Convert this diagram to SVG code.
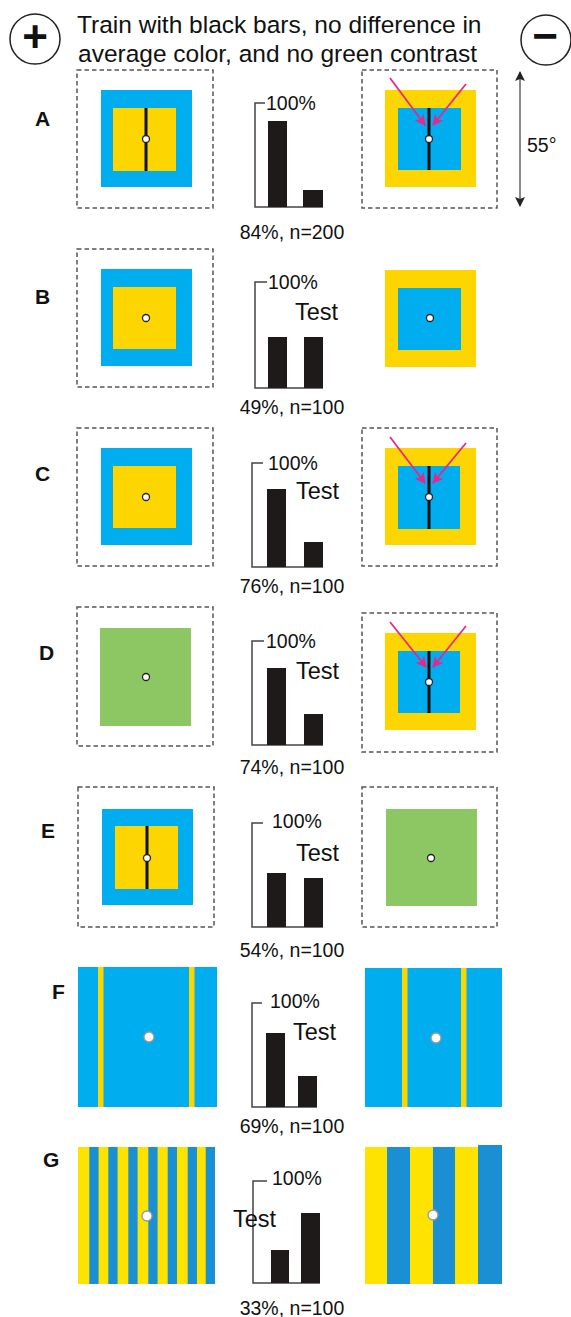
<svg xmlns="http://www.w3.org/2000/svg" width="571" height="1317" viewBox="0 0 571 1317">
<defs>
<style>
.box{fill:none;stroke:#555;stroke-width:1.5;stroke-dasharray:4.5 3}
.cy{fill:#00aeef}.ye{fill:#fdd500}.gr{fill:#8cc763}.gb{fill:#1b8fd4}.gy{fill:#ffe300}
.bar{fill:#1e1a1a}
.ax{fill:none;stroke:#444;stroke-width:1.5}
.stick{stroke:#111;stroke-width:3}
.fix{fill:#fff;stroke:#222;stroke-width:1.3}
.fix2{fill:#fff;stroke:#999;stroke-width:1.3}
text{font-family:"Liberation Sans",Arial,sans-serif;fill:#111}
.lbl{font-weight:bold;font-size:21px}
.t{font-size:19.5px}
.test{font-size:23.5px}
.ttl{font-size:24.5px}
.sym{font-size:44px;font-weight:bold}
.mag{fill:none;stroke:#e8268b;stroke-width:1.8;marker-end:url(#mh)}
.deg{fill:none;stroke:#888;stroke-width:2;marker-start:url(#dh);marker-end:url(#dh)}
</style>
<marker id="mh" viewBox="0 0 10 10" refX="9" refY="5" markerWidth="13" markerHeight="11" markerUnits="userSpaceOnUse" orient="auto"><path d="M0,0 L10,5 L0,10 L2.5,5 Z" fill="#e8268b"/></marker>
<marker id="dh" viewBox="0 0 10 10" refX="9" refY="5" markerWidth="12" markerHeight="10" markerUnits="userSpaceOnUse" orient="auto-start-reverse"><path d="M0,0 L10,5 L0,10 L2,5 Z" fill="#222"/></marker>
</defs>
<rect width="571" height="1317" fill="#fff"/>

<g id="header">
<circle cx="35" cy="39" r="25" fill="none" stroke="#222" stroke-width="1.5"/>
<text class="sym" x="35" y="52" text-anchor="middle">+</text>
<circle cx="546" cy="40" r="25" fill="none" stroke="#222" stroke-width="1.5"/>
<text class="sym" x="545" y="51" text-anchor="middle">−</text>
<text class="ttl" x="77" y="33">Train with black bars, no difference in</text>
<text class="ttl" x="78" y="62">average color, and no green contrast</text>
</g>

<g id="rowA">
<text class="lbl" x="35" y="126">A</text>
<g id="A-plus">
<rect class="box" x="77" y="70" width="136" height="138"/>
<rect class="cy" x="101" y="90" width="91" height="97"/>
<rect class="ye" x="113" y="108" width="63" height="63"/>
<line class="stick" x1="146" y1="108" x2="146" y2="171"/>
<circle class="fix" cx="146" cy="139" r="3.5"/>
</g>
<g id="A-chart">
<path class="ax" d="M265 103 H255 V207 H323"/>
<rect class="bar" x="268" y="121" width="19" height="86"/>
<rect class="bar" x="303" y="190" width="20" height="17"/>
<text class="t" x="266" y="110">100%</text>
<text class="t" x="292" y="239" text-anchor="middle">84%, n=200</text>
</g>
<g id="A-minus">
<rect class="box" x="362" y="70" width="135" height="138"/>
<rect class="ye" x="385" y="90" width="91" height="97"/>
<rect class="cy" x="398" y="108" width="63" height="62"/>
<line class="stick" x1="429" y1="108" x2="429" y2="170"/>
<circle class="fix" cx="429" cy="139" r="3.5"/>
</g>
<text class="t" x="527" y="152">55°</text>
</g>

<g id="rowB">
<text class="lbl" x="35" y="304">B</text>
<g id="B-plus">
<rect class="box" x="77" y="249" width="136" height="138"/>
<rect class="cy" x="101" y="269" width="91" height="97"/>
<rect class="ye" x="113" y="287" width="63" height="62"/>
<circle class="fix" cx="146" cy="318" r="3.5"/>
</g>
<g id="B-chart">
<path class="ax" d="M267 282 H255 V388 H323"/>
<rect class="bar" x="268" y="337" width="19" height="51"/>
<rect class="bar" x="304" y="337" width="19" height="51"/>
<text class="t" x="268" y="289">100%</text>
<text class="test" x="295" y="320">Test</text>
<text class="t" x="292" y="414" text-anchor="middle">49%, n=100</text>
</g>
<g id="B-minus">
<rect class="ye" x="385" y="270" width="91" height="97"/>
<rect class="cy" x="398" y="288" width="63" height="62"/>
<circle class="fix" cx="430" cy="318" r="3.5"/>
</g>
</g>

<g id="rowC">
<text class="lbl" x="35" y="481">C</text>
<g id="C-plus">
<rect class="box" x="77" y="428" width="136" height="138"/>
<rect class="cy" x="101" y="448" width="91" height="97"/>
<rect class="ye" x="113" y="466" width="63" height="62"/>
<circle class="fix" cx="146" cy="497" r="3.5"/>
</g>
<g id="C-chart">
<path class="ax" d="M263 463 H252 V567 H323"/>
<rect class="bar" x="267" y="489" width="19" height="78"/>
<rect class="bar" x="304" y="542" width="19" height="25"/>
<text class="t" x="268" y="470">100%</text>
<text class="test" x="296" y="499">Test</text>
<text class="t" x="292" y="593" text-anchor="middle">76%, n=100</text>
</g>
<g id="C-minus">
<rect class="box" x="362" y="428" width="135" height="138"/>
<rect class="ye" x="385" y="448" width="91" height="97"/>
<rect class="cy" x="398" y="466" width="62" height="63"/>
<line class="stick" x1="429" y1="466" x2="429" y2="529"/>
<circle class="fix" cx="429" cy="497" r="3.5"/>
</g>
</g>

<g id="rowD">
<text class="lbl" x="39" y="660">D</text>
<g id="D-plus">
<rect class="box" x="77" y="607" width="136" height="139"/>
<rect class="gr" x="100" y="628" width="91" height="98"/>
<circle class="fix" cx="146" cy="677" r="3.5"/>
</g>
<g id="D-chart">
<path class="ax" d="M264 641 H252 V745 H323"/>
<rect class="bar" x="267" y="668" width="19" height="77"/>
<rect class="bar" x="304" y="714" width="19" height="31"/>
<text class="t" x="266" y="648">100%</text>
<text class="test" x="296" y="679">Test</text>
<text class="t" x="292" y="774" text-anchor="middle">74%, n=100</text>
</g>
<g id="D-minus">
<rect class="box" x="362" y="613" width="135" height="139"/>
<rect class="ye" x="385" y="633" width="91" height="97"/>
<rect class="cy" x="398" y="651" width="62" height="62"/>
<line class="stick" x1="429" y1="651" x2="429" y2="713"/>
<circle class="fix" cx="429" cy="682" r="3.5"/>
</g>
</g>

<g id="rowE">
<text class="lbl" x="41" y="838">E</text>
<g id="E-plus">
<rect class="box" x="78" y="787" width="136" height="140"/>
<rect class="cy" x="102" y="809" width="91" height="96"/>
<rect class="ye" x="115" y="826" width="63" height="63"/>
<line class="stick" x1="147" y1="826" x2="147" y2="889"/>
<circle class="fix" cx="147" cy="858" r="3.5"/>
</g>
<g id="E-chart">
<path class="ax" d="M263 823 H252 V927 H323"/>
<rect class="bar" x="267" y="873" width="19" height="54"/>
<rect class="bar" x="304" y="878" width="19" height="49"/>
<text class="t" x="272" y="828">100%</text>
<text class="test" x="296" y="861">Test</text>
<text class="t" x="292" y="957" text-anchor="middle">54%, n=100</text>
</g>
<g id="E-minus">
<rect class="box" x="362" y="787" width="135" height="140"/>
<rect class="gr" x="386" y="809" width="91" height="97"/>
<circle class="fix" cx="431" cy="858" r="3.5"/>
</g>
</g>

<g id="rowF">
<text class="lbl" x="52" y="999">F</text>
<g id="F-plus">
<rect class="cy" x="78" y="967" width="139" height="140"/>
<rect class="ye" x="98" y="967" width="5.5" height="140"/>
<rect class="ye" x="189" y="967" width="5.5" height="140"/>
<circle class="fix2" cx="149" cy="1037" r="5"/>
</g>
<g id="F-chart">
<path class="ax" d="M262 1003 H252 V1107 H317"/>
<rect class="bar" x="266" y="1033" width="19" height="74"/>
<rect class="bar" x="298" y="1076" width="19" height="31"/>
<text class="t" x="270" y="1008">100%</text>
<text class="test" x="293" y="1040">Test</text>
<text class="t" x="292" y="1133" text-anchor="middle">69%, n=100</text>
</g>
<g id="F-minus">
<rect class="cy" x="365" y="968" width="137" height="139"/>
<rect class="ye" x="402" y="968" width="5.5" height="139"/>
<rect class="ye" x="461" y="968" width="5.5" height="139"/>
<circle class="fix2" cx="436" cy="1038" r="5"/>
</g>
</g>

<g id="rowG">
<text class="lbl" x="43" y="1167">G</text>
<g id="G-plus">
<rect class="gy" x="78" y="1147" width="137" height="137"/>
<rect class="gb" x="89.3" y="1147" width="9.3" height="137"/>
<rect class="gb" x="108.3" y="1147" width="9.3" height="137"/>
<rect class="gb" x="128.3" y="1147" width="9.3" height="137"/>
<rect class="gb" x="148.3" y="1147" width="9.3" height="137"/>
<rect class="gb" x="167.7" y="1147" width="9.3" height="137"/>
<rect class="gb" x="187.7" y="1147" width="9.3" height="137"/>
<rect class="gb" x="205.7" y="1147" width="9.3" height="137"/>
<circle class="fix2" cx="147" cy="1216" r="5"/>
</g>
<g id="G-chart">
<path class="ax" d="M267 1181 H253 V1283 H320"/>
<rect class="bar" x="271" y="1250" width="18" height="33"/>
<rect class="bar" x="301" y="1213" width="19" height="70"/>
<text class="t" x="272" y="1185">100%</text>
<text class="test" x="233" y="1227">Test</text>
<text class="t" x="292" y="1315" text-anchor="middle">33%, n=100</text>
</g>
<g id="G-minus">
<rect class="gy" x="365" y="1147" width="137" height="137"/>
<rect class="gb" x="387" y="1147" width="23" height="137"/>
<rect class="gb" x="433" y="1147" width="22" height="137"/>
<rect class="gb" x="478" y="1145" width="24" height="139"/>
<circle class="fix2" cx="433" cy="1215" r="5"/>
</g>
</g>

<g id="connectors">
<line class="mag" x1="390" y1="78" x2="425" y2="125"/>
<line class="mag" x1="466" y1="84" x2="433" y2="125"/>
<line class="mag" x1="390" y1="437" x2="425" y2="483"/>
<line class="mag" x1="466" y1="443" x2="433" y2="483"/>
<line class="mag" x1="390" y1="622" x2="426" y2="667"/>
<line class="mag" x1="466" y1="626" x2="433" y2="667"/>
<line class="deg" x1="520" y1="72" x2="520" y2="206"/>
</g>
</svg>
